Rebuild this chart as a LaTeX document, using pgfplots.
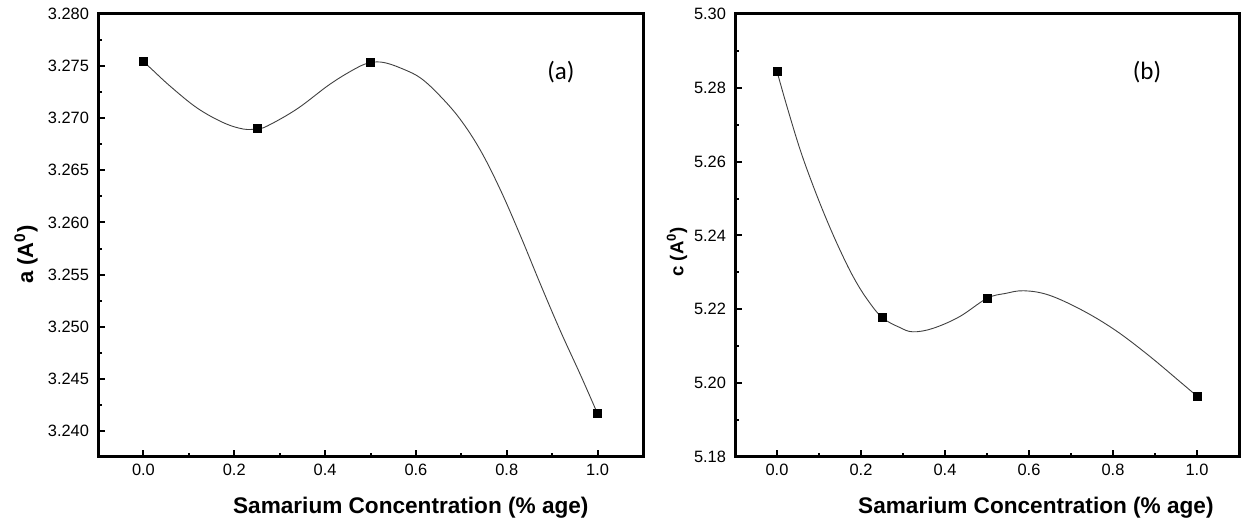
\documentclass[border=0pt]{standalone}
\usepackage{pgfplots}
\pgfplotsset{compat=1.18}
\usepackage{fontspec}
\setmainfont{Liberation Sans}
\newfontfamily\calib{Carlito}
\begin{document}
\begin{tikzpicture}
\useasboundingbox (0,0) rectangle (620.5pt,261.5pt);
\pgfplotsset{
  myaxis/.style={
    scale only axis, anchor=south west,
    height=221.5pt,
    xmin=-0.1, xmax=1.1,
    xtick={0,0.2,0.4,0.6,0.8,1.0},
    minor xtick={0.1,0.3,0.5,0.7,0.9},
    xtick pos=left, ytick pos=left,
    tick align=inside,
    major tick length=3.5pt, minor tick length=2pt,
    every tick/.style={line width=1pt, black},
    axis line style={line width=1.5pt},
    /pgf/number format/assume math mode=true,
    tick label style={font=\fontsize{8.2}{9.8}\selectfont},
    yticklabel style={xshift=-1pt},
    xticklabel style={/pgf/number format/.cd, fixed, fixed zerofill, precision=1},
    xlabel={\textbf{Samarium Concentration (\% age)}},
    label style={font=\fontsize{11.3}{13}\selectfont},
    clip=false,
  },
  curve/.style={line width=0.45pt, black!75, smooth, tension=0.6, mark=none},
  pts/.style={only marks, mark=square*, mark size=2pt, black},
}
% Panel (a)
\begin{axis}[myaxis, at={(49pt,33pt)}, width=272.5pt,
  ymin=3.2375, ymax=3.280,
  ytick={3.240,3.245,3.250,3.255,3.260,3.265,3.270,3.275,3.280},
  minor ytick={3.2425,3.2475,3.2525,3.2575,3.2625,3.2675,3.2725,3.2775},
  yticklabel style={/pgf/number format/.cd, fixed, fixed zerofill, precision=3},
  ylabel={\textbf{a (A\textsuperscript{0})}},
  xlabel style={at={(axis description cs:0.574,0)}, anchor=center, yshift=-25.5pt},
  ylabel style={at={(axis description cs:-0.132,0.457)}, anchor=center, font=\fontsize{11}{13}\selectfont},
]
\addplot[curve] coordinates {
(0,3.27542) (0.0154,3.27482) (0.0595,3.27305) (0.1183,3.27098) (0.1762,3.26957)
(0.2203,3.26896) (0.25,3.26899) (0.2725,3.26925) (0.3385,3.27090) (0.4119,3.27330)
(0.4707,3.27485) (0.5,3.27533) (0.5286,3.27535) (0.566,3.27482) (0.6101,3.27386)
(0.6542,3.27209) (0.6982,3.26986) (0.7423,3.26690) (0.7863,3.26310) (0.8304,3.25870)
(0.8744,3.25405) (0.9185,3.24955) (0.9626,3.24535) (1.0,3.24164)
};
\addplot[pts] coordinates {(0,3.27542) (0.25,3.26899) (0.5,3.27533) (1.0,3.24164)};
\node[font=\calib\fontsize{12.5}{14}\selectfont] at (axis description cs:0.8495,0.869) {(a)};
\end{axis}
% Panel (b)
\begin{axis}[myaxis, at={(367.5pt,33pt)}, width=252pt,
  ymin=5.18, ymax=5.30,
  ytick={5.18,5.20,5.22,5.24,5.26,5.28,5.30},
  minor ytick={5.19,5.21,5.23,5.25,5.27,5.29},
  yticklabel style={/pgf/number format/.cd, fixed, fixed zerofill, precision=2},
  ylabel={\textbf{c (A\textsuperscript{0})}},
  xlabel style={at={(axis description cs:0.597,0)}, anchor=center, yshift=-25.5pt},
  ylabel style={at={(axis description cs:-0.115,0.463)}, anchor=center, font=\fontsize{9.3}{11}\selectfont},
]
\addplot[curve] coordinates {
(0,5.28443) (0.0237,5.27494) (0.0552,5.26319) (0.0867,5.25324) (0.1184,5.24420)
(0.1499,5.23607) (0.1814,5.22883) (0.2131,5.22297) (0.25,5.21781) (0.2920,5.21510)
(0.3235,5.21391) (0.3708,5.21483) (0.4341,5.21798) (0.5,5.22297) (0.5446,5.22432)
(0.5880,5.22503) (0.6472,5.22386) (0.7260,5.21979) (0.8051,5.21437) (0.8840,5.20759)
(0.9628,5.20007) (1.0,5.19647)
};
\addplot[pts] coordinates {(0,5.28443) (0.25,5.21781) (0.5,5.22297) (1.0,5.19647)};
\node[font=\calib\fontsize{12.5}{14}\selectfont] at (axis description cs:0.8175,0.869) {(b)};
\end{axis}
\end{tikzpicture}
\end{document}
